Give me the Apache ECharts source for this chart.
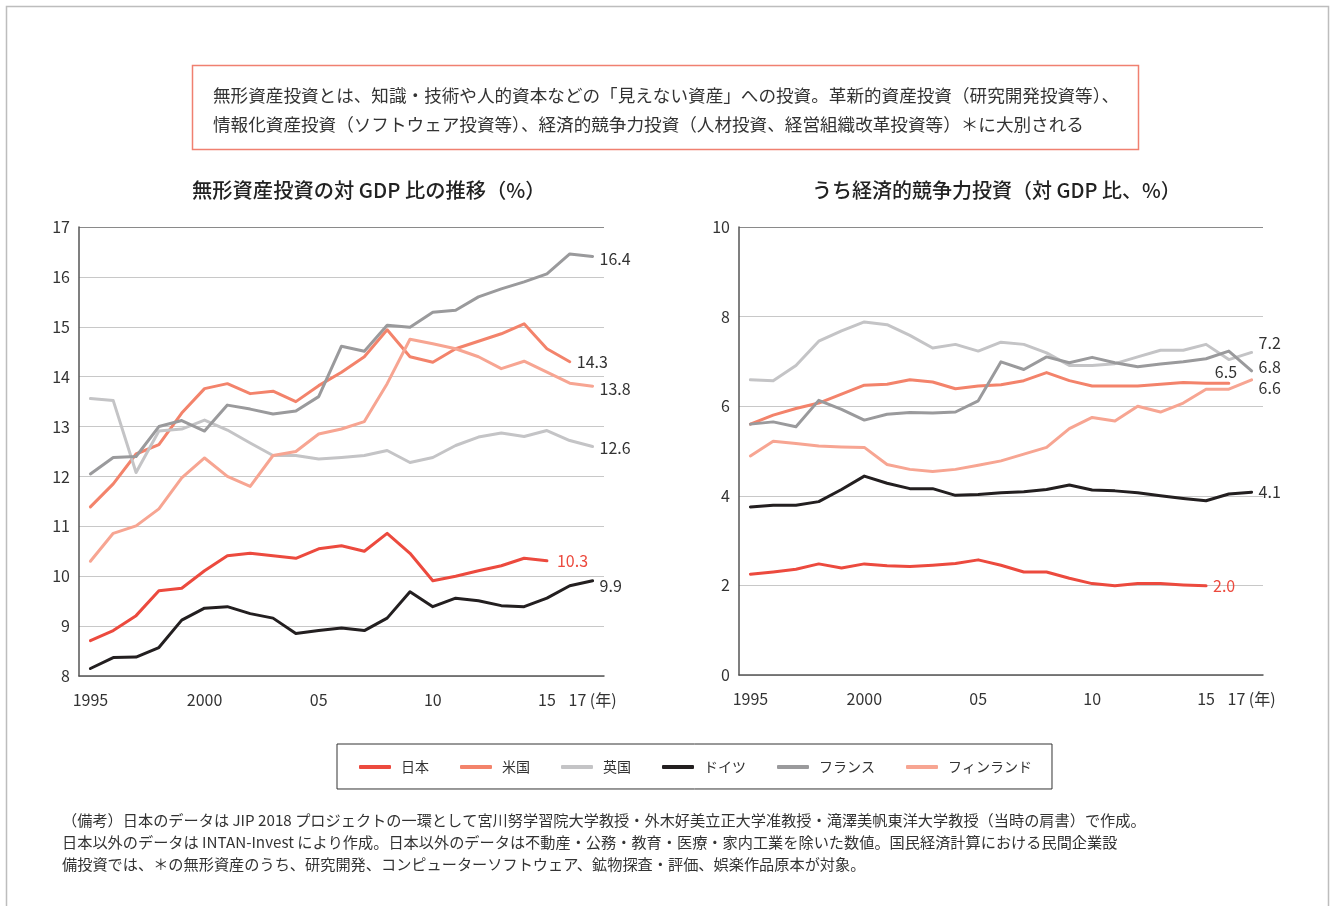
<!DOCTYPE html>
<html><head><meta charset="utf-8">
<script src="https://cdn.jsdelivr.net/npm/echarts@6/dist/echarts.min.js"></script>
<style>html,body{margin:0;padding:0;background:#fff}#c{width:1335px;height:906px}</style>
</head><body><div id="c"></div><script>
const FF = '"Noto Sans CJK JP", "Noto Sans", sans-serif';
const years = ['1995','1996','1997','1998','1999','2000','2001','2002','2003','2004','2005','2006','2007','2008','2009','2010','2011','2012','2013','2014','2015','2016','2017'];
const tickYears = ['1995','2000','2005','2010','2015','2017'];
const tickTexts = ['1995','2000','05','10','15','17 (年)'];
const names = ['日本','米国','英国','ドイツ','フランス','フィンランド'];
const colors = ['#ec4a3e','#f3836b','#c4c4c6','#231f20','#9a9a9c','#f7a592'];

// Left chart: intangible investment, % of GDP
const leftJapan   = [8.71,8.91,9.21,9.71,9.76,10.11,10.41,10.46,10.41,10.36,10.55,10.61,10.50,10.86,10.46,9.91,10.00,10.11,10.21,10.36,10.31];
const leftUS      = [11.39,11.85,12.45,12.64,13.27,13.76,13.86,13.66,13.71,13.50,13.82,14.09,14.40,14.94,14.40,14.29,14.56,14.71,14.86,15.06,14.56,14.30];
const leftUK      = [13.56,13.52,12.08,12.91,12.95,13.13,12.93,12.67,12.42,12.42,12.35,12.38,12.42,12.52,12.28,12.38,12.62,12.79,12.87,12.80,12.92,12.72,12.60];
const leftGermany = [8.15,8.37,8.38,8.57,9.12,9.36,9.39,9.25,9.16,8.85,8.91,8.96,8.91,9.16,9.69,9.39,9.56,9.51,9.41,9.39,9.56,9.81,9.91];
const leftFrance  = [12.05,12.38,12.40,13.00,13.12,12.91,13.43,13.35,13.25,13.31,13.60,14.61,14.51,15.03,14.99,15.29,15.33,15.60,15.76,15.90,16.06,16.46,16.41];
const leftFinland = [10.30,10.86,11.01,11.35,11.97,12.37,12.00,11.80,12.42,12.50,12.85,12.95,13.10,13.86,14.75,14.66,14.56,14.40,14.16,14.31,14.09,13.87,13.81];

// Right chart: economic competencies, % of GDP
const rightJapan   = [2.25,2.30,2.36,2.48,2.39,2.48,2.44,2.42,2.45,2.49,2.57,2.45,2.30,2.30,2.16,2.04,1.99,2.04,2.04,2.01,1.99];
const rightUS      = [5.60,5.80,5.95,6.07,6.27,6.47,6.49,6.59,6.54,6.39,6.45,6.48,6.57,6.75,6.57,6.45,6.45,6.45,6.49,6.53,6.51,6.51];
const rightUK      = [6.59,6.57,6.91,7.45,7.68,7.88,7.82,7.58,7.30,7.38,7.23,7.43,7.38,7.19,6.91,6.91,6.95,7.10,7.25,7.25,7.38,7.04,7.20];
const rightGermany = [3.75,3.79,3.79,3.87,4.14,4.44,4.28,4.16,4.16,4.01,4.03,4.07,4.09,4.14,4.24,4.13,4.11,4.07,4.00,3.94,3.89,4.04,4.08];
const rightFrance  = [5.60,5.65,5.54,6.13,5.93,5.69,5.82,5.86,5.85,5.87,6.12,6.99,6.82,7.10,6.97,7.09,6.97,6.88,6.94,6.99,7.06,7.23,6.79];
const rightFinland = [4.89,5.22,5.17,5.11,5.09,5.08,4.70,4.59,4.54,4.59,4.68,4.78,4.93,5.08,5.50,5.75,5.67,6.00,5.87,6.07,6.38,6.38,6.59];

const leftData  = [leftJapan,leftUS,leftUK,leftGermany,leftFrance,leftFinland];
const rightData = [rightJapan,rightUS,rightUK,rightGermany,rightFrance,rightFinland];
const leftLabelOffsets  = [[3,0],[0,0],[0,1],[0,5],[0,2],[0,3]];
const rightLabelOffsets = [[0,0],[-21,-11],[0,-10],[0,0],[0,-4],[0,8]];

function mkSeries(i, data, gi, off){
  return {
    type:'line', name:names[i], data:data, xAxisIndex:gi, yAxisIndex:gi,
    showSymbol:false, symbol:'none', silent:true,
    lineStyle:{width:3, color:colors[i], cap:'round', join:'round'},
    itemStyle:{color:colors[i]},
    emphasis:{disabled:true},
    endLabel:{show:true, distance:7, offset:off, fontSize:16, fontFamily:FF,
      color: i===0 ? '#ec4a3e' : '#333',
      formatter:p=>Number(p.value).toFixed(1)}
  };
}
const series = [];
leftData.forEach((d,i)=>series.push(mkSeries(i,d,0,leftLabelOffsets[i])));
rightData.forEach((d,i)=>series.push(mkSeries(i,d,1,rightLabelOffsets[i])));

function mkX(gi){
  return {type:'category', gridIndex:gi, data:years, boundaryGap:true,
    axisLine:{lineStyle:{color:'#555', width:1.5}}, axisTick:{show:false},
    axisLabel:{interval:(idx,val)=>tickYears.indexOf(val)>=0,
      formatter:v=>{const k=tickYears.indexOf(v);return k>=0?tickTexts[k]:'';},
      color:'#333', fontSize:16, fontFamily:FF, margin:16}};
}
function mkY(gi,min,max,interval,n){
  const cols=[]; for(let k=0;k<n;k++) cols.push(k===n-1?'#8a8a8a':'#c8c8c8');
  return {type:'value', gridIndex:gi, min, max, interval,
    axisLine:{show:true, lineStyle:{color:'#555', width:1.5}}, axisTick:{show:false},
    splitLine:{lineStyle:{color:cols, width:1.2}},
    axisLabel:{color:'#333', fontSize:16, fontFamily:FF, margin:9}};
}

const bodyLines = [
  '無形資産投資とは、知識・技術や人的資本などの「見えない資産」への投資。革新的資産投資（研究開発投資等）、',
  '情報化資産投資（ソフトウェア投資等）、経済的競争力投資（人材投資、経営組織改革投資等）＊に大別される'
];
const noteLines = [
  '（備考）日本のデータは JIP 2018 プロジェクトの一環として宮川努学習院大学教授・外木好美立正大学准教授・滝澤美帆東洋大学教授（当時の肩書）で作成。',
  '日本以外のデータは INTAN-Invest により作成。日本以外のデータは不動産・公務・教育・医療・家内工業を除いた数値。国民経済計算における民間企業設',
  '備投資では、＊の無形資産のうち、研究開発、コンピューターソフトウェア、鉱物探査・評価、娯楽作品原本が対象。'
];

const graphics = [
  {type:'rect', shape:{x:6.5,y:6.5,width:1322,height:1000}, style:{fill:'none', stroke:'#bdbdbd', lineWidth:1.5}, silent:true},
  {type:'rect', shape:{x:192.5,y:65.5,width:946,height:84}, style:{fill:'none', stroke:'#f08070', lineWidth:1.5}, silent:true},
  {type:'text', x:213, y:95, style:{text:bodyLines[0], font:'17.6px '+FF, fill:'#333', textVerticalAlign:'middle'}},
  {type:'text', x:213, y:124, style:{text:bodyLines[1], font:'17.6px '+FF, fill:'#333', textVerticalAlign:'middle'}},
  {type:'text', x:192, y:190, style:{text:'無形資産投資の対 GDP 比の推移（%）', font:'500 20.3px '+FF, fill:'#222', textVerticalAlign:'middle'}},
  {type:'text', x:812, y:190, style:{text:'うち経済的競争力投資（対 GDP 比、%）', font:'500 20px '+FF, fill:'#222', textVerticalAlign:'middle'}},
  {type:'text', x:62, y:820, style:{text:noteLines[0], font:'15.2px '+FF, fill:'#333', textVerticalAlign:'middle'}},
  {type:'text', x:62, y:842, style:{text:noteLines[1], font:'15.2px '+FF, fill:'#333', textVerticalAlign:'middle'}},
  {type:'text', x:62, y:864, style:{text:noteLines[2], font:'15.2px '+FF, fill:'#333', textVerticalAlign:'middle'}}
];

const chart = echarts.init(document.getElementById('c'), null, {renderer:'canvas'});
chart.setOption({
  animation:false,
  backgroundColor:'#fff',
  textStyle:{fontFamily:FF},
  grid:[
    {left:79, right:731, top:227, bottom:230},
    {left:739, right:72, top:227, bottom:231}
  ],
  xAxis:[mkX(0), mkX(1)],
  yAxis:[mkY(0,8,17,1,10), mkY(1,0,10,2,6)],
  legend:{
    data:names, left:337, top:744, orient:'horizontal',
    icon:'roundRect', itemWidth:32, itemHeight:4, itemGap:31,
    borderColor:'#333', borderWidth:1, padding:[16,20,15,22],
    textStyle:{fontSize:14, fontFamily:FF, color:'#333', padding:[0,0,0,5]},
    selectedMode:false
  },
  graphic:graphics,
  series:series
});
</script></body></html>
